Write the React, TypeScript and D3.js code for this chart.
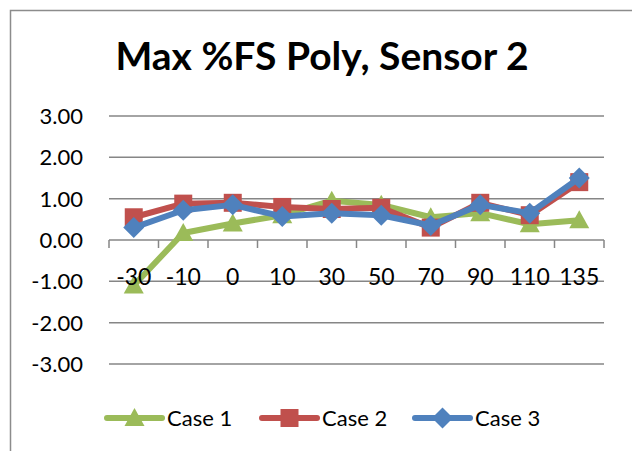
import React from 'react';
import * as d3 from 'd3';

const categories = ['-30', '-10', '0', '10', '30', '50', '70', '90', '110', '135'];
const case1 = [-1.1, 0.17, 0.4, 0.6, 0.95, 0.85, 0.55, 0.65, 0.38, 0.48];
const case2 = [0.55, 0.88, 0.9, 0.8, 0.75, 0.78, 0.3, 0.9, 0.6, 1.4];
const case3 = [0.3, 0.72, 0.85, 0.57, 0.65, 0.6, 0.35, 0.85, 0.65, 1.5];
const yTicks = [3, 2, 1, 0, -1, -2, -3];

const seriesList = [
  { name: 'Case 1', values: case1, color: '#9BBB59', marker: 'triangle' },
  { name: 'Case 2', values: case2, color: '#C0504D', marker: 'square' },
  { name: 'Case 3', values: case3, color: '#4F81BD', marker: 'diamond' },
];

const FONT = 'Lato, "Open Sans", sans-serif';

const Marker: React.FC<{ kind: string; x: number; y: number; color: string }> = ({ kind, x, y, color }) => {
  if (kind === 'square') {
    return <rect x={x - 9} y={y - 9} width={18} height={18} fill={color} />;
  }
  if (kind === 'diamond') {
    return <path d={`M${x},${y - 10.5}L${x + 10.5},${y}L${x},${y + 10.5}L${x - 10.5},${y}Z`} fill={color} />;
  }
  return <path d={`M${x},${y - 10}L${x + 10},${y + 8}L${x - 10},${y + 8}Z`} fill={color} />;
};

const App: React.FC = () => {
  const width = 632;
  const height = 451;
  const left = 109;
  const right = 604;

  const x = d3.scaleBand<string>().domain(categories).range([left, right]);
  const y = d3.scaleLinear().domain([-3, 3]).range([364, 116]);
  const cx = (c: string) => (x(c) ?? 0) + x.bandwidth() / 2;

  const line = d3
    .line<number>()
    .x((_, i) => cx(categories[i]))
    .y((d) => y(d));

  const boundaries = d3.range(categories.length + 1).map((i) => left + i * x.bandwidth());
  const legendX = [107, 262, 415];

  return (
    <svg width={width} height={height} style={{ position: 'absolute', left: 0, top: 0, background: '#fff' }}>
      <rect x={10.5} y={10.5} width={700} height={500} fill="#fff" stroke="#8c8c8c" strokeWidth={1.5} />

      <text x={322} y={70} textAnchor="middle" fontFamily={FONT} fontWeight="bold" fontSize={39} fill="#000">
        Max %FS Poly, Sensor 2
      </text>

      {yTicks.map((t) => (
        <g key={t}>
          <line x1={left} x2={right} y1={y(t)} y2={y(t)} stroke="#868686" strokeWidth={1.5} />
          <text x={83} y={y(t)} dy="0.36em" textAnchor="end" fontFamily={FONT} fontSize={22} fill="#000">
            {t.toFixed(2)}
          </text>
        </g>
      ))}

      {boundaries.map((b, i) => (
        <line key={i} x1={b} x2={b} y1={y(0)} y2={y(0) + 8} stroke="#868686" strokeWidth={1.5} />
      ))}

      {seriesList.map((s) => (
        <g key={s.name}>
          <path d={line(s.values) ?? ''} fill="none" stroke={s.color} strokeWidth={6} strokeLinejoin="round" />
          {s.values.map((v, i) => (
            <Marker key={i} kind={s.marker} x={cx(categories[i])} y={y(v)} color={s.color} />
          ))}
        </g>
      ))}

      {categories.map((c) => (
        <text key={c} x={cx(c)} y={285} textAnchor="middle" fontFamily={FONT} fontSize={23} fill="#000">
          {c}
        </text>
      ))}

      {seriesList.map((s, i) => (
        <g key={s.name}>
          <line x1={legendX[i]} x2={legendX[i] + 55} y1={418} y2={418} stroke={s.color} strokeWidth={6} strokeLinecap="round" />
          <Marker kind={s.marker} x={legendX[i] + 27.5} y={418} color={s.color} />
          <text x={legendX[i] + 60} y={418} dy="0.36em" fontFamily={FONT} fontSize={22} fill="#000">
            {s.name}
          </text>
        </g>
      ))}
    </svg>
  );
};

export default App;
